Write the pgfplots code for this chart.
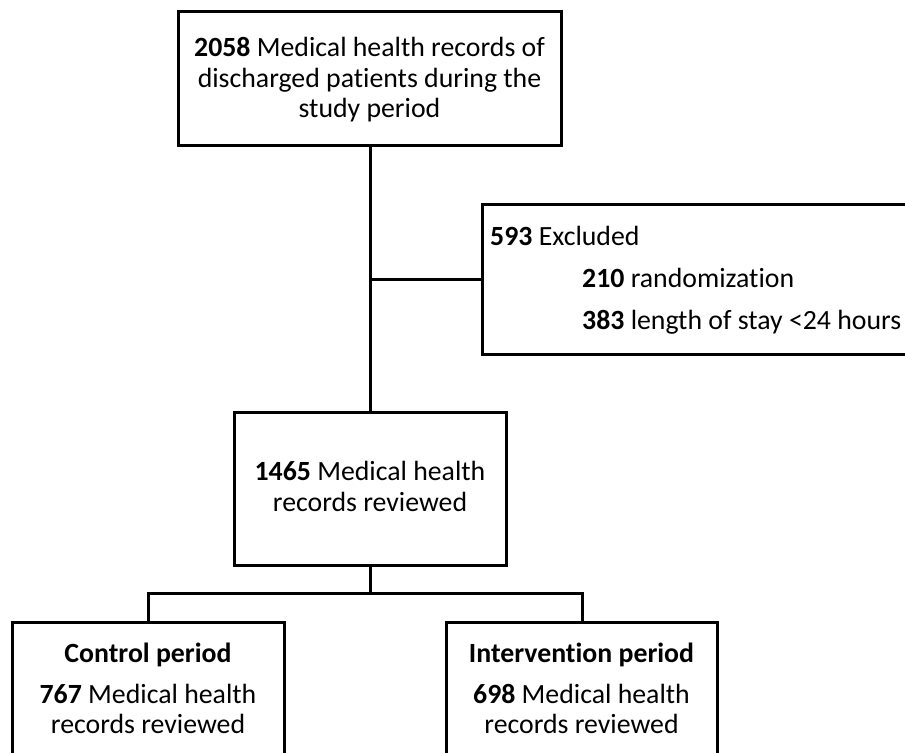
\documentclass[border=0pt]{standalone}
\usepackage{fontspec}
\setmainfont{Carlito}[Ligatures=NoCommon]
\usepackage{pgfplots}
\pgfplotsset{compat=1.18}
\begin{document}
\begin{tikzpicture}
\begin{axis}[
  width=905bp, height=753bp, scale only axis,
  hide axis, xmin=0, xmax=905, ymin=0, ymax=753, y dir=reverse,
  clip=true,
  fc/.style={draw=black, line width=3bp, mark=none, solid, line join=miter},
  nodes={font=\fontsize{27.8bp}{30bp}\selectfont, inner sep=0pt}
]
% top box
\addplot[fc] coordinates {(178,12) (561,12) (561,146) (178,146)} -- cycle;
% main vertical
\addplot[fc] coordinates {(370,146) (370,412)};
% branch to excluded
\addplot[fc] coordinates {(370,279) (482,279)};
% excluded box (cut at right edge)
\addplot[fc] coordinates {(905,204) (482,204) (482,354) (905,354)};
% middle box
\addplot[fc] coordinates {(234,412) (506,412) (506,565) (234,565)} -- cycle;
% split
\addplot[fc] coordinates {(370,565) (370,593)};
\addplot[fc] coordinates {(148,622) (148,593) (582,593) (582,622)};
% bottom boxes (cut at bottom edge)
\addplot[fc] coordinates {(12,753) (12,622) (284,622) (284,753)};
\addplot[fc] coordinates {(446,753) (446,622) (717,622) (717,753)};

% texts
\node[anchor=base] at (axis cs:369.5,57) {\textbf{2058} Medical health records of};
\node[anchor=base] at (axis cs:369.5,88) {discharged patients during the};
\node[anchor=base] at (axis cs:369.5,118) {study period};

\node[anchor=base west] at (axis cs:490,245) {\textbf{593} Excluded};
\node[anchor=base west] at (axis cs:582,287) {\textbf{210} randomization};
\node[anchor=base west] at (axis cs:582,329) {\textbf{383} length of stay <24 hours};

\node[anchor=base] at (axis cs:370,480) {\textbf{1465} Medical health};
\node[anchor=base] at (axis cs:370,511) {records reviewed};

\node[anchor=base] at (axis cs:148,662) {\textbf{Control period}};
\node[anchor=base] at (axis cs:148,703) {\textbf{767} Medical health};
\node[anchor=base] at (axis cs:148,733) {records reviewed};

\node[anchor=base] at (axis cs:581.5,662) {\textbf{Intervention period}};
\node[anchor=base] at (axis cs:581.5,703) {\textbf{698} Medical health};
\node[anchor=base] at (axis cs:581.5,733) {records reviewed};
\end{axis}
\pgfresetboundingbox
\path (current axis.south west) rectangle (current axis.north east);
\end{tikzpicture}
\end{document}
